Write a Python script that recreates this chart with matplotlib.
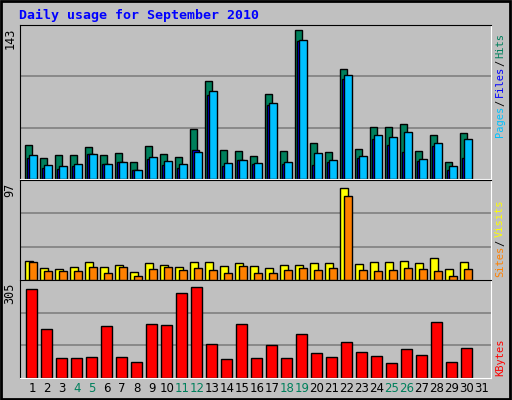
import matplotlib
matplotlib.use("Agg")
import matplotlib.pyplot as plt
import numpy as np

days = list(range(1, 32))
weekend_days = [4, 5, 11, 12, 18, 19, 25, 26]

hits = [33, 20, 23, 23, 31, 23, 25, 16, 32, 24, 21, 48, 94, 28, 27, 22, 82, 27, 143, 35, 26, 106, 29, 50, 50, 53, 27, 42, 16, 44]
files = [20, 11, 10, 12, 24, 14, 16, 9, 19, 13, 11, 28, 81, 12, 18, 14, 71, 14, 132, 13, 16, 96, 20, 38, 33, 26, 17, 32, 9, 20]
pages = [23, 13, 12, 14, 24, 14, 16, 9, 21, 17, 14, 26, 84, 15, 18, 15, 73, 16, 133, 25, 18, 100, 22, 42, 40, 45, 19, 35, 12, 38]
visits = [20, 13, 12, 14, 19, 14, 16, 8, 18, 16, 14, 19, 19, 15, 18, 15, 13, 16, 16, 18, 18, 97, 17, 19, 19, 20, 18, 23, 12, 19]
sites = [19, 9, 9, 9, 14, 7, 14, 4, 12, 14, 11, 13, 11, 7, 15, 7, 7, 11, 13, 11, 13, 89, 11, 9, 11, 13, 12, 9, 4, 12]
kbytes = [298, 164, 67, 67, 70, 174, 70, 54, 181, 178, 285, 305, 114, 64, 181, 67, 111, 67, 147, 84, 70, 121, 87, 74, 50, 97, 77, 188, 54, 101]

BG = "#C0C0C0"
W, H = 512, 400
mono = "DejaVu Sans Mono"

fig = plt.figure(figsize=(W / 100, H / 100), dpi=100, facecolor=BG)


def add_panel(top, bottom, ymax):
    ax = fig.add_axes([20 / W, 1 - bottom / H, 471 / W, (bottom - top) / H])
    ax.set_facecolor(BG)
    ax.set_xlim(1 - 11 / 15, 1 + 460 / 15)
    ax.set_ylim(0, ymax)
    ax.set_xticks([])
    ax.set_yticks([])
    for s in ("top", "left"):
        ax.spines[s].set_color("black")
    for s in ("bottom", "right"):
        ax.spines[s].set_color("white")
    # gridlines at thirds of the panel
    for f in (1 / 3, 2 / 3):
        ax.axhline(ymax * f, color="#808080", lw=1.2, zorder=0)
    return ax


x = np.arange(1, 31)
kw = dict(edgecolor="black", linewidth=1, align="edge")

# top: hits / files / pages
ax1 = add_panel(25, 179, 143 * 153 / 148)
ax1.bar(x - 0.38, hits, width=0.47, color="#00805C", **kw)
ax1.bar(x - 0.25, files, width=0.45, color="#0000FF", **kw)
ax1.bar(x - 0.11, pages, width=0.49, color="#00C0FF", **kw)

# middle: visits / sites
ax2 = add_panel(180, 280, 97 * 100 / 92)
ax2.bar(x - 0.38, visits, width=0.53, color="#FFFF00", **kw)
ax2.bar(x - 0.11, sites, width=0.49, color="#FF8000", **kw)

# bottom: kbytes
ax3 = add_panel(280, 378, 305 * 98 / 91)
ax3.bar(x - 0.31, kbytes, width=0.69, color="#FF0000", **kw)

# max labels on the left
for y, txt in [(28, "143"), (183, "97"), (283, "305")]:
    fig.text(10 / W, 1 - y / H, txt, rotation=90, ha="center", va="top",
             fontsize=8.5, family=mono, color="black")


# right-side legends, drawn piece by piece from the bottom up
def vlabel(parts, y_bottom, step=5.6):
    y = y_bottom
    for txt, col in parts:
        fig.text(500 / W, 1 - y / H, txt, rotation=90, ha="center", va="bottom",
                 fontsize=7.5, family=mono, color=col)
        y -= len(txt) * step + 3


vlabel([("Pages", "#00C0FF"), ("/", "black"), ("Files", "#0000FF"), ("/", "black"), ("Hits", "#00805C")], 137)
vlabel([("Sites", "#FF8000"), ("/", "black"), ("Visits", "#FFFF00")], 277)
vlabel([("KBytes", "#FF0000")], 376)

# day labels
for d in days:
    px = 31 + 15 * (d - 1) + 1
    col = "#00805C" if d in weekend_days else "black"
    fig.text(px / W, 1 - 389 / H, str(d), ha="center", va="center",
             fontsize=8.5, family="DejaVu Sans", color=col)

fig.text(19 / W, 1 - 15 / H, "Daily usage for September 2010", ha="left", va="center",
         fontsize=9.5, family=mono, fontweight="bold", color="#0000FF")

# outer frame
fig.patches.append(plt.Rectangle((0.002, 0.003), 0.995, 0.994, transform=fig.transFigure,
                                 fill=False, edgecolor="black", lw=2))

fig.savefig("out.png", dpi=100, facecolor=BG)
